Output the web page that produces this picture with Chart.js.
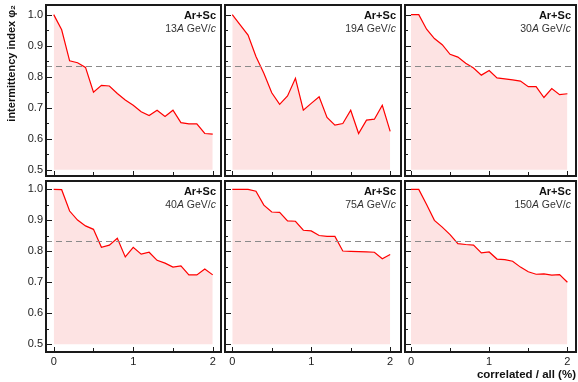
<!DOCTYPE html>
<html>
<head>
<meta charset="utf-8">
<script src="https://cdn.jsdelivr.net/npm/chart.js@4.4.1/dist/chart.umd.min.js"></script>
<style>
  html, body { margin: 0; padding: 0; background: #fff; }
  #wrap { position: relative; width: 578px; height: 382px; }
  #wrap canvas { position: absolute; left: 0; top: 0; }
</style>
</head>
<body>
<div id="wrap"></div>
<script>
// correlated / all (%) and phi2 per beam momentum
const fractions = [0, 0.1, 0.2, 0.3, 0.4, 0.5, 0.6, 0.7, 0.8, 0.9, 1.0, 1.1, 1.2, 1.3, 1.4, 1.5, 1.6, 1.7, 1.8, 1.9, 2.0];
const phi13  = [1.000, 0.951, 0.851, 0.845, 0.830, 0.750, 0.772, 0.770, 0.746, 0.725, 0.708, 0.687, 0.675, 0.692, 0.672, 0.692, 0.652, 0.648, 0.648, 0.617, 0.615];
const phi19  = [1.000, 0.967, 0.934, 0.865, 0.811, 0.748, 0.711, 0.738, 0.795, 0.692, 0.714, 0.735, 0.669, 0.644, 0.649, 0.692, 0.617, 0.660, 0.663, 0.708, 0.624];
const phi30  = [1.000, 1.000, 0.953, 0.923, 0.903, 0.872, 0.863, 0.843, 0.828, 0.805, 0.820, 0.796, 0.793, 0.790, 0.786, 0.768, 0.768, 0.733, 0.762, 0.742, 0.745];
const phi40  = [1.000, 0.999, 0.930, 0.901, 0.882, 0.871, 0.813, 0.820, 0.842, 0.782, 0.813, 0.791, 0.797, 0.771, 0.762, 0.749, 0.753, 0.724, 0.724, 0.743, 0.724];
const phi75  = [1.000, 1.000, 1.000, 0.994, 0.949, 0.927, 0.926, 0.898, 0.897, 0.868, 0.866, 0.851, 0.848, 0.848, 0.801, 0.800, 0.799, 0.798, 0.797, 0.776, 0.790];
const phi150 = [1.000, 1.000, 0.951, 0.900, 0.878, 0.854, 0.825, 0.822, 0.820, 0.795, 0.798, 0.775, 0.773, 0.768, 0.749, 0.734, 0.726, 0.727, 0.723, 0.725, 0.700];
const energies = ['13', '19', '30', '40', '75', '150'];
const series = [phi13, phi19, phi30, phi40, phi75, phi150];
const yTicks = [0.5, 0.6, 0.7, 0.8, 0.9, 1.0];
const yMinorTicks = [0.55, 0.65, 0.75, 0.85, 0.95];
const xTicks = [0, 1, 2];
const xMinorTicks = [0.5, 1.5];
const criticalLevel = 0.833;

// panel geometry (plot area in page pixels) and axis ranges
const W = 578, H = 382;
const colLeft = [46, 225, 405], colRight = [221, 401, 576];
const rowTop = [5, 181], rowBottom = [176, 352];
const xRange = [[-0.097, 2.104], [-0.092, 2.137], [-0.076, 2.11]];
const yRange = [[0.48, 1.031], [0.475, 1.027]];

const FONT = '"Liberation Sans", Arial, Helvetica, sans-serif';
Chart.defaults.font.family = FONT;

// frame, inward ticks, dashed line and the panel label
const panelDecor = {
  id: 'panelDecor',
  afterDatasetsDraw(chart) {
    const { ctx, chartArea: a, scales: { y } } = chart;
    const py = Math.round(y.getPixelForValue(criticalLevel)) + 0.5;
    ctx.save();
    ctx.strokeStyle = '#8a8a8a';
    ctx.lineWidth = 1.2;
    ctx.setLineDash([6, 4]);
    ctx.beginPath();
    ctx.moveTo(a.left, py);
    ctx.lineTo(a.right, py);
    ctx.stroke();
    ctx.restore();
  },
  afterDraw(chart, args, opts) {
    const { ctx, chartArea: a, scales: { x, y } } = chart;
    ctx.save();
    ctx.strokeStyle = '#1a1a1a';
    ctx.lineWidth = 1;
    ctx.beginPath();
    const yTick = (v, len) => {
      const p = Math.round(y.getPixelForValue(v)) + 0.5;
      ctx.moveTo(a.left, p);
      ctx.lineTo(a.left + len, p);
    };
    yTicks.forEach(v => yTick(v, 6));
    yMinorTicks.forEach(v => yTick(v, 3));
    const xTick = (v, len) => {
      const p = Math.round(x.getPixelForValue(v)) + 0.5;
      ctx.moveTo(p, a.bottom);
      ctx.lineTo(p, a.bottom - len);
    };
    xTicks.forEach(v => xTick(v, 5));
    xMinorTicks.forEach(v => xTick(v, 4));
    ctx.stroke();

    ctx.lineWidth = 2;
    ctx.strokeStyle = '#1a1a1a';
    ctx.strokeRect(a.left, a.top, a.width, a.height);

    // "Ar+Sc" and "xxA GeV/c"
    const right = a.right - 5;
    ctx.textBaseline = 'alphabetic';
    ctx.textAlign = 'left';
    ctx.fillStyle = '#111';
    ctx.font = 'bold 11px ' + FONT;
    const w1 = ctx.measureText('Ar+Sc').width;
    ctx.fillText('Ar+Sc', right - w1, a.top + 14);
    const parts = [[opts.energy, ''], ['A', 'italic '], [' GeV/', ''], ['c', 'italic ']];
    ctx.fillStyle = '#333';
    let total = 0;
    parts.forEach(p => { ctx.font = p[1] + '10.5px ' + FONT; total += ctx.measureText(p[0]).width; });
    let cx = right - total;
    parts.forEach(p => {
      ctx.font = p[1] + '10.5px ' + FONT;
      ctx.fillText(p[0], cx, a.top + 26.5);
      cx += ctx.measureText(p[0]).width;
    });
    ctx.restore();
  }
};

const wrap = document.getElementById('wrap');

series.forEach((vals, i) => {
  const col = i % 3, row = Math.floor(i / 3);
  const showY = col === 0, showX = row === 1;
  const canvas = document.createElement('canvas');
  canvas.width = W; canvas.height = H;
  wrap.appendChild(canvas);

  new Chart(canvas, {
    type: 'line',
    data: {
      datasets: [{
        data: fractions.map((f, k) => ({ x: f, y: vals[k] })),
        borderColor: '#ff0000',
        borderWidth: 1.2,
        backgroundColor: '#fde3e3',
        fill: { value: 0.5 },
        pointRadius: 0,
        tension: 0
      }]
    },
    options: {
      responsive: false,
      animation: false,
      events: [],
      layout: {
        padding: {
          left: showY ? 0 : colLeft[col],
          top: rowTop[row],
          right: W - colRight[col],
          bottom: showX ? 0 : H - rowBottom[row]
        }
      },
      plugins: {
        legend: { display: false },
        tooltip: { enabled: false },
        panelDecor: { energy: energies[i] }
      },
      scales: {
        x: {
          type: 'linear',
          min: xRange[col][0],
          max: xRange[col][1],
          display: showX,
          afterBuildTicks: s => { s.ticks = xTicks.map(v => ({ value: v })); },
          afterFit: s => {
            s.paddingLeft = 0; s.paddingRight = 0;
            if (showX) s.height = H - rowBottom[row];
          },
          ticks: { color: '#222', font: { size: 11 }, padding: 3, maxRotation: 0, callback: v => String(v) },
          grid: { display: false, drawTicks: false },
          border: { display: false },
          title: {
            display: showX && col === 2,
            text: 'correlated / all (%)',
            align: 'end',
            color: '#111',
            font: { size: 11.5, weight: 'bold' },
            padding: { top: 0, bottom: 0 }
          }
        },
        y: {
          type: 'linear',
          min: yRange[row][0],
          max: yRange[row][1],
          display: showY,
          afterBuildTicks: s => { s.ticks = yTicks.map(v => ({ value: v })); },
          afterFit: s => {
            s.paddingTop = 0; s.paddingBottom = 0;
            if (showY) s.width = colLeft[col];
          },
          ticks: { color: '#222', font: { size: 11 }, padding: 3, callback: v => v.toFixed(1) },
          grid: { display: false, drawTicks: false },
          border: { display: false },
          title: {
            display: showY && row === 0,
            text: 'intermittency index \u03C6\u2082',
            align: 'end',
            color: '#111',
            font: { size: 11, weight: 'bold' },
            padding: { top: 5, bottom: 0 }
          }
        }
      }
    },
    plugins: [panelDecor]
  });
});
</script>
</body>
</html>
